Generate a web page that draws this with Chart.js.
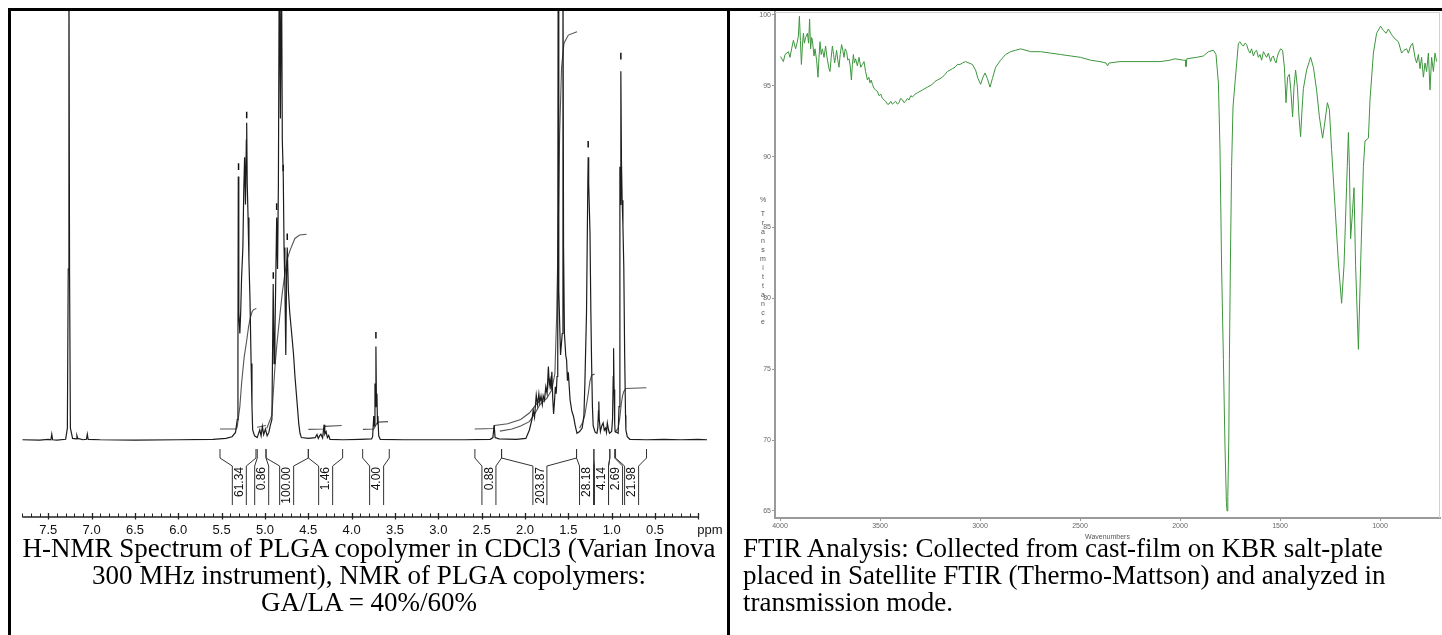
<!DOCTYPE html>
<html>
<head>
<meta charset="utf-8">
<script src="https://cdn.jsdelivr.net/npm/chart.js@4"></script>
<style>
  html, body { margin: 0; padding: 0; background: #fff; }
  #page { position: relative; width: 1442px; height: 635px; overflow: hidden; background: #fff; }
  canvas { position: absolute; }
  .bd { position: absolute; background: #000; z-index: 5; }
  .cap { position: absolute; font-family: 'Liberation Serif', 'Times New Roman', serif; font-size: 27px; line-height: 27px; color: #000; white-space: nowrap; z-index: 4; }
</style>
</head>
<body>
<div id="page">
  <canvas id="nmr" width="727" height="540" style="left:0;top:0"></canvas>
  <canvas id="ftir" width="712" height="545" style="left:730px;top:0"></canvas>
  <div class="bd" style="left:8px;top:8px;width:1434px;height:3px"></div>
  <div class="bd" style="left:8px;top:8px;width:3px;height:627px"></div>
  <div class="bd" style="left:727px;top:8px;width:3px;height:627px"></div>
  <div class="cap" id="capL" style="left:11px;width:716px;top:535px;text-align:center">H-NMR Spectrum of PLGA copolymer in CDCl3 (Varian Inova<br>300 MHz instrument), NMR of PLGA copolymers:<br>GA/LA = 40%/60%</div>
  <div class="cap" id="capR" style="left:743px;top:535px;text-align:left">FTIR Analysis: Collected from cast-film on KBR salt-plate<br>placed in Satellite FTIR (Thermo-Mattson) and analyzed in<br>transmission mode.</div>
</div>
<script>
// ---------------- NMR data (chemical shift in ppm, intensity in % of plot height) ----------------
const nmrPpm = [7.80,7.60,7.50,7.47,7.46,7.45,7.40,7.30,7.28,7.27,7.262,7.255,7.245,7.22,7.18,7.17,7.16,7.10,7.06,7.05,7.04,6.90,6.50,6.00,5.60,5.45,5.38,5.34,5.32,5.312,5.308,5.302,5.29,5.28,5.27,5.255,5.245,5.235,5.225,5.215,5.211,5.205,5.195,5.185,5.173,5.16,5.15,5.142,5.12,5.09,5.06,5.045,5.03,5.015,4.995,4.975,4.955,4.94,4.92,4.905,4.895,4.885,4.865,4.855,4.845,4.835,4.822,4.81,4.80,4.789,4.78,4.77,4.76,4.75,4.743,4.73,4.715,4.692,4.67,4.654,4.63,4.61,4.596,4.58,4.50,4.42,4.40,4.385,4.37,4.355,4.335,4.318,4.31,4.295,4.28,4.265,4.25,4.10,3.90,3.77,3.758,3.745,3.738,3.731,3.726,3.72,3.714,3.708,3.702,3.697,3.688,3.67,3.40,3.00,2.70,2.40,2.37,2.356,2.345,2.30,2.10,1.99,1.95,1.92,1.905,1.89,1.87,1.855,1.84,1.83,1.815,1.80,1.79,1.775,1.76,1.745,1.73,1.72,1.71,1.70,1.69,1.68,1.67,1.66,1.65,1.64,1.63,1.622,1.617,1.61,1.59,1.57,1.562,1.555,1.545,1.53,1.52,1.51,1.50,1.48,1.46,1.44,1.42,1.40,1.37,1.34,1.32,1.309,1.29,1.275,1.271,1.265,1.25,1.24,1.232,1.222,1.213,1.19,1.17,1.16,1.152,1.148,1.143,1.13,1.115,1.098,1.085,1.07,1.06,1.05,1.035,1.025,1.00,0.99,0.982,0.978,0.972,0.965,0.96,0.94,0.925,0.915,0.905,0.898,0.894,0.887,0.879,0.87,0.86,0.85,0.84,0.836,0.82,0.79,0.60,0.40,0.20,0.00,-0.10];
const nmrInt = [0.3,0.2,0.4,0.3,1.6,0.3,0.2,0.4,3,40,115,40,3,0.6,0.5,1.3,0.6,0.3,0.4,1.6,0.4,0.3,0.2,0.3,0.4,0.6,1.0,2.0,5,20,61.5,30,25,30,38,45,58,66,55,70,74,60,52,42,33,18,8,2.6,1.2,0.8,2.6,1.2,3.4,1.5,2.8,1.2,2.0,3.5,5,36.5,18,25,52,40,60,115,75,115,70,61.5,45,36,20,40,45,35,30,25,20,15,9,4,1.8,0.8,0.6,0.8,1.5,0.6,1.2,1.6,0.7,3.8,1.6,2.2,0.8,1.3,0.4,0.3,0.4,0.5,1.0,5.8,3.5,13.4,8,22,9,11,4,5.8,1.2,0.4,0.3,0.3,0.3,0.4,0.8,3.7,0.8,0.5,0.4,0.6,2.5,5,7.2,5.5,10.7,8.4,11,9,10.5,8.5,10.5,9.5,12.6,11,17.3,13,14.2,12,16.1,10,6.3,9,12.6,11,15,40,115,35,20,25,115,45,25,20,18.8,14,16,9.6,7,5.7,3.5,1.8,2.2,3,6,13.4,30,60,66,60,48.3,30,18.8,8,3.5,2,1.8,3,7,9.2,5,2.2,3.5,4.2,2.5,3,2,4.2,2.5,1.8,2.2,5,15,21.6,12,4,2.2,2.0,1.8,8,63.8,55,86,65,56,50,40.5,20,6,2.6,1.0,0.4,0.3,0.4,0.3,0.4,0.3];

// integral curves (null separates one integral from the next)
const intPpm = [5.52,5.33,5.32,5.29,5.27,5.24,5.21,5.19,5.17,5.15,5.135,5.10,null,
  5.09,4.99,null,
  4.98,4.92,4.885,4.86,4.83,4.80,4.77,4.74,4.71,4.655,4.60,4.52,null,
  4.50,4.32,4.31,4.115,null,
  3.87,3.745,3.72,3.70,3.58,null,
  2.58,2.36,2.35,2.20,2.05,1.95,1.87,1.80,null,
  2.29,2.15,2.05,1.95,1.885,1.83,1.75,1.69,1.655,1.635,1.617,1.60,1.578,1.55,1.50,1.40,null,
  1.37,1.33,1.31,1.29,1.27,1.25,1.23,1.195,null,
  0.96,0.925,0.905,0.89,0.875,0.86,0.836,0.60];
const intVal = [2.8,2.8,3.3,8,13.4,19.5,23.5,26.5,28.6,30,30.5,30.8,null,
  3.2,3.6,null,
  2.9,6,17.3,23,28.9,34.5,39,42.5,44.4,47.1,47.9,48.1,null,
  2.7,2.8,3.4,3.6,null,
  2.7,2.8,3.7,4.4,4.5,null,
  2.8,2.9,3.6,4.0,5.0,6.5,8.5,10,null,
  2.3,2.8,3.5,4.5,6.4,8.4,9.9,11.9,15.7,28.9,48.3,71.6,87,92.5,94.4,95.2,null,
  3,4.5,6,8.5,11,14,15.3,15.6,null,
  2.0,3,5.5,8.5,10.5,11.5,12.2,12.4];

// peak-pick markers
const markPpm = [5.305,5.211,4.904,4.865,4.789,4.743,3.72,1.271,0.894];
const markInt = [63.8,75.8,38.5,54.5,63.5,47.5,24.6,69,89.5];

// integral regions and their values
const regStart = [5.519,5.089,4.988,4.50,3.873,2.578,2.27,1.405,1.205,1.021,0.955];
const regEnd   = [5.104,4.988,4.50,4.104,3.566,2.27,1.405,1.205,1.021,0.965,0.598];
const regMid   = [5.296,5.038,4.75,4.30,3.712,2.416,1.828,1.29,1.117,0.955,0.77];
const regLabel = ['61.34','0.86','100.00','1.46','4.00','0.88','203.87','28.18','4.14','2.69','21.98'];

// axis ticks
const nmrTickValues = [7.5,7.0,6.5,6.0,5.5,5.0,4.5,4.0,3.5,3.0,2.5,2.0,1.5,1.0,0.5];
const nmrTickLabels = ['7.5','7.0','6.5','6.0','5.5','5.0','4.5','4.0','3.5','3.0','2.5','2.0','1.5','1.0','0.5'];
const nmrAxisFrom = 7.8, nmrAxisTo = 0.0, nmrUnit = 'ppm';

// ---------------- FTIR data ----------------
const ftirWn = [3997,3983,3975,3958,3950,3942,3933,3922,3915,3908,3903,3898,3893,3888,3883,3878,3872,3863,3857,3852,3847,3842,3838,3830,3825,3817,3810,3805,3800,3794,3788,3780,3772,3766,3760,3755,3750,3744,3738,3732,3727,3722,3717,3711,3705,3699,3692,3686,3680,3674,3667,3661,3655,3649,3643,3638,3633,3628,3622,3613,3605,3596,3588,3580,3572,3563,3556,3550,3544,3538,3530,3522,3513,3505,3496,3488,3480,3472,3463,3455,3446,3438,3430,3422,3413,3405,3397,3388,3380,3372,3363,3355,3346,3338,3325,3313,3300,3288,3275,3263,3250,3238,3225,3213,3200,3188,3175,3163,3150,3138,3125,3113,3100,3088,3072,3055,3038,3022,3010,2997,2985,2975,2963,2950,2938,2922,2897,2872,2847,2822,2797,2747,2697,2647,2597,2547,2497,2447,2400,2370,2362,2355,2300,2250,2200,2150,2100,2050,2025,1983,1972,1970,1966,1917,1883,1858,1833,1820,1808,1800,1792,1783,1775,1768,1765,1761,1756,1753,1748,1742,1735,1725,1708,1700,1692,1683,1675,1667,1658,1650,1642,1633,1625,1617,1608,1600,1592,1583,1575,1567,1558,1547,1540,1533,1527,1520,1514,1508,1497,1487,1478,1470,1462,1453,1445,1437,1430,1422,1413,1405,1397,1390,1383,1367,1347,1333,1317,1303,1287,1277,1263,1253,1242,1225,1208,1192,1180,1167,1158,1153,1147,1138,1130,1122,1108,1097,1083,1075,1058,1050,1033,1017,997,983,970,958,942,925,908,892,880,867,858,847,837,825,817,808,800,792,783,775,767,758,750,742,733,725,717];
const ftirT = [97.06,96.7,97.2,97.4,97.0,97.6,98.2,97.6,98.0,98.5,99.9,98.2,96.5,97.8,98.7,98.0,98.4,98.7,98.0,99.7,97.6,98.4,98.2,97.1,97.6,96.8,95.6,97.0,98.1,97.2,97.6,97.0,97.8,97.1,96.6,96.2,96.0,97.0,97.8,97.2,96.6,97.0,97.5,96.8,96.3,97.2,97.9,97.5,97.0,97.6,97.4,96.8,96.9,96.4,95.4,96.5,97.2,96.6,96.9,96.4,97.0,96.3,96.5,96.7,96.0,95.4,95.6,95.2,95.4,95.1,94.8,94.7,94.6,94.3,94.4,94.1,94.0,93.9,93.7,93.7,93.9,93.7,93.8,93.9,93.7,93.8,94.1,94.0,93.8,93.9,94.1,94.0,94.3,94.2,94.4,94.5,94.6,94.7,94.8,94.9,95.0,95.1,95.3,95.4,95.5,95.6,95.8,96.0,96.1,96.2,96.3,96.5,96.5,96.6,96.7,96.6,96.5,96.1,95.5,95.1,95.6,95.9,95.5,94.9,95.5,96.3,96.8,97.2,97.4,97.5,97.6,97.4,97.4,97.3,97.2,97.1,97.0,96.8,96.7,96.6,96.4,96.6,96.7,96.7,96.7,96.7,96.7,96.8,96.9,96.8,96.8,96.35,96.9,97.0,97.1,97.4,97.5,97.2,95.2,90.5,82.2,75.7,69.5,65.6,65.0,66.0,70.0,75.7,82.5,89.3,93.5,95.2,98.0,98.1,97.9,97.8,98.0,97.9,97.5,97.3,97.6,97.1,97.4,97.5,97.0,97.2,96.8,97.4,97.2,97.0,97.3,96.7,97.0,97.1,96.8,96.6,97.0,97.3,97.6,97.5,96.3,93.8,95.6,95.8,94.5,92.8,94.9,96.1,94.9,92.8,91.4,93.3,94.8,96.1,97.0,96.3,94.7,92.8,91.3,92.3,93.8,93.3,90.5,86.5,82.5,79.65,82.3,87.9,91.7,89.3,84.2,86.0,87.8,82.3,76.4,82.3,89.3,91.1,91.3,94.0,97.3,98.7,99.2,98.9,98.7,99.0,98.6,98.3,98.1,97.3,97.5,97.6,97.3,97.8,98.0,97.0,96.6,97.2,96.2,97.0,95.6,96.6,96.0,97.3,94.7,97.0,96.0,97.3,96.7];
const ftirXTicks = [4000,3500,3000,2500,2000,1500,1000];
const ftirYTicks = [65,70,75,80,85,90,95,100];
const ftirXTitle = 'Wavenumbers';
const ftirYTitle = '%Transmittance';

// ---------------- NMR chart ----------------
const nmrDecor = {
  id: 'nmrDecor',
  afterDraw(chart) {
    const { ctx, chartArea: ca, scales: { x, y } } = chart;
    const yb = ca.bottom;
    ctx.save();
    ctx.strokeStyle = '#222';
    ctx.fillStyle = '#111';
    // axis line
    ctx.lineWidth = 1.3;
    ctx.beginPath();
    ctx.moveTo(x.getPixelForValue(nmrAxisFrom), yb);
    ctx.lineTo(x.getPixelForValue(nmrAxisTo), yb);
    ctx.stroke();
    // minor ticks every 0.1 ppm
    ctx.lineWidth = 1;
    ctx.beginPath();
    const nMinor = Math.round((nmrAxisFrom - nmrAxisTo) * 10);
    for (let k = 0; k <= nMinor; k++) {
      const px = Math.round(x.getPixelForValue(nmrAxisFrom - k / 10)) + 0.5;
      ctx.moveTo(px, yb - 3.5);
      ctx.lineTo(px, yb);
    }
    ctx.stroke();
    // major ticks
    ctx.lineWidth = 1.3;
    ctx.beginPath();
    nmrTickValues.concat([nmrAxisTo]).forEach(v => {
      const px = Math.round(x.getPixelForValue(v)) + 0.5;
      ctx.moveTo(px, yb - 4);
      ctx.lineTo(px, yb + 2.5);
    });
    ctx.stroke();
    // labels
    ctx.font = '13px "Liberation Sans", Arial, sans-serif';
    ctx.textAlign = 'center';
    ctx.textBaseline = 'alphabetic';
    nmrTickValues.forEach((v, i) => ctx.fillText(nmrTickLabels[i], x.getPixelForValue(v), yb + 16.5));
    ctx.textAlign = 'left';
    ctx.fillText(nmrUnit, x.getPixelForValue(nmrAxisTo) - 1, yb + 16.5);

    // integral brackets
    const y0 = y.getPixelForValue(0);
    ctx.strokeStyle = '#333';
    ctx.lineWidth = 1;
    ctx.font = '12px "Liberation Sans", Arial, sans-serif';
    regStart.forEach((s, i) => {
      const xa = x.getPixelForValue(s), xb = x.getPixelForValue(regEnd[i]), xm = x.getPixelForValue(regMid[i]);
      ctx.beginPath();
      ctx.moveTo(xa, y0 + 8); ctx.lineTo(xa, y0 + 17); ctx.lineTo(xm - 7, y0 + 25); ctx.lineTo(xm - 7, y0 + 64);
      ctx.moveTo(xb, y0 + 8); ctx.lineTo(xb, y0 + 17); ctx.lineTo(xm + 7, y0 + 25); ctx.lineTo(xm + 7, y0 + 64);
      ctx.stroke();
      ctx.save();
      ctx.translate(xm + 0.5, y0 + 26);
      ctx.rotate(-Math.PI / 2);
      ctx.textAlign = 'right';
      ctx.textBaseline = 'middle';
      ctx.fillText(regLabel[i], 0, 0);
      ctx.restore();
    });
    ctx.restore();
  }
};

new Chart(document.getElementById('nmr'), {
  type: 'line',
  data: {
    datasets: [
      {
        label: 'spectrum',
        data: nmrPpm.map((p, i) => ({ x: p, y: nmrInt[i] })),
        borderColor: '#1c1c1c', borderWidth: 1.2, pointRadius: 0, tension: 0, fill: false
      },
      {
        label: 'integral',
        data: intPpm.map((p, i) => ({ x: p === null ? intPpm[i - 1] : p, y: intVal[i] })),
        borderColor: '#555', borderWidth: 1.1, pointRadius: 0, tension: 0, fill: false, spanGaps: false
      },
      {
        label: 'peaks', type: 'scatter',
        data: markPpm.map((p, i) => ({ x: p, y: markInt[i] })),
        pointStyle: 'line', rotation: 90, radius: 3.3, borderColor: '#111', borderWidth: 1.5, showLine: false
      }
    ]
  },
  options: {
    responsive: false, animation: false, maintainAspectRatio: false,
    layout: { padding: { left: 22.3, right: 20, top: 11, bottom: 23 } },
    plugins: { legend: { display: false }, tooltip: { enabled: false } },
    scales: {
      x: { type: 'linear', reverse: true, min: -0.1, max: 7.8, display: false },
      y: { type: 'linear', min: -17.67, max: 100, display: false }
    }
  },
  plugins: [nmrDecor]
});

// ---------------- FTIR chart ----------------
const ftirDecor = {
  id: 'ftirDecor',
  afterDraw(chart) {
    const { ctx, chartArea: ca, scales: { y } } = chart;
    ctx.save();
    ctx.strokeStyle = '#d0d0d0';
    ctx.lineWidth = 1;
    ctx.beginPath();
    ctx.moveTo(ca.left, ca.top + 0.5); ctx.lineTo(ca.right - 0.5, ca.top + 0.5); ctx.lineTo(ca.right - 0.5, ca.bottom);
    ctx.stroke();
    // stacked y-axis title letters
    ctx.fillStyle = '#555';
    ctx.font = '7px "Liberation Sans", Arial, sans-serif';
    ctx.textAlign = 'center';
    ctx.textBaseline = 'middle';
    const chars = ftirYTitle.split('');
    const cx = ca.left - 12;
    let yy = y.getPixelForValue(86.95);
    chars.forEach((c, i) => {
      ctx.fillText(c, cx, yy);
      yy += (i === 0 ? 14 : 9);
    });
    ctx.restore();
  }
};

const ftirTickFont = { size: 7, family: '"Liberation Sans", Arial' };
new Chart(document.getElementById('ftir'), {
  type: 'line',
  data: {
    datasets: [{
      label: 'FTIR',
      data: ftirWn.map((w, i) => ({ x: w, y: ftirT[i] })),
      borderColor: 'rgb(60,150,60)', borderWidth: 1, pointRadius: 0, tension: 0, fill: false
    }]
  },
  options: {
    responsive: false, animation: false, maintainAspectRatio: false,
    layout: { padding: { left: 0, right: 2, top: 12, bottom: 0 } },
    plugins: { legend: { display: false }, tooltip: { enabled: false } },
    scales: {
      x: {
        type: 'linear', reverse: true, min: 700, max: 4025,
        afterFit(s) { s.height = 27; },
        afterBuildTicks(s) { s.ticks = ftirXTicks.map(v => ({ value: v })); },
        ticks: { font: ftirTickFont, color: '#666', padding: 1, maxRotation: 0, autoSkip: false, callback: v => String(v) },
        grid: { drawOnChartArea: false, tickLength: 3, color: '#999' },
        border: { color: '#9a9a9a', width: 2 },
        title: { display: true, text: ftirXTitle, font: ftirTickFont, color: '#555', padding: { top: 0, bottom: 4 } }
      },
      y: {
        type: 'linear', min: 64.5, max: 100.2,
        afterFit(s) { s.width = 45; },
        afterBuildTicks(s) { s.ticks = ftirYTicks.map(v => ({ value: v })); },
        ticks: { font: ftirTickFont, color: '#666', padding: 1, callback: v => String(v) },
        grid: { drawOnChartArea: false, tickLength: 3, color: '#999' },
        border: { color: '#9a9a9a', width: 2 }
      }
    }
  },
  plugins: [ftirDecor]
});
</script>
</body>
</html>
